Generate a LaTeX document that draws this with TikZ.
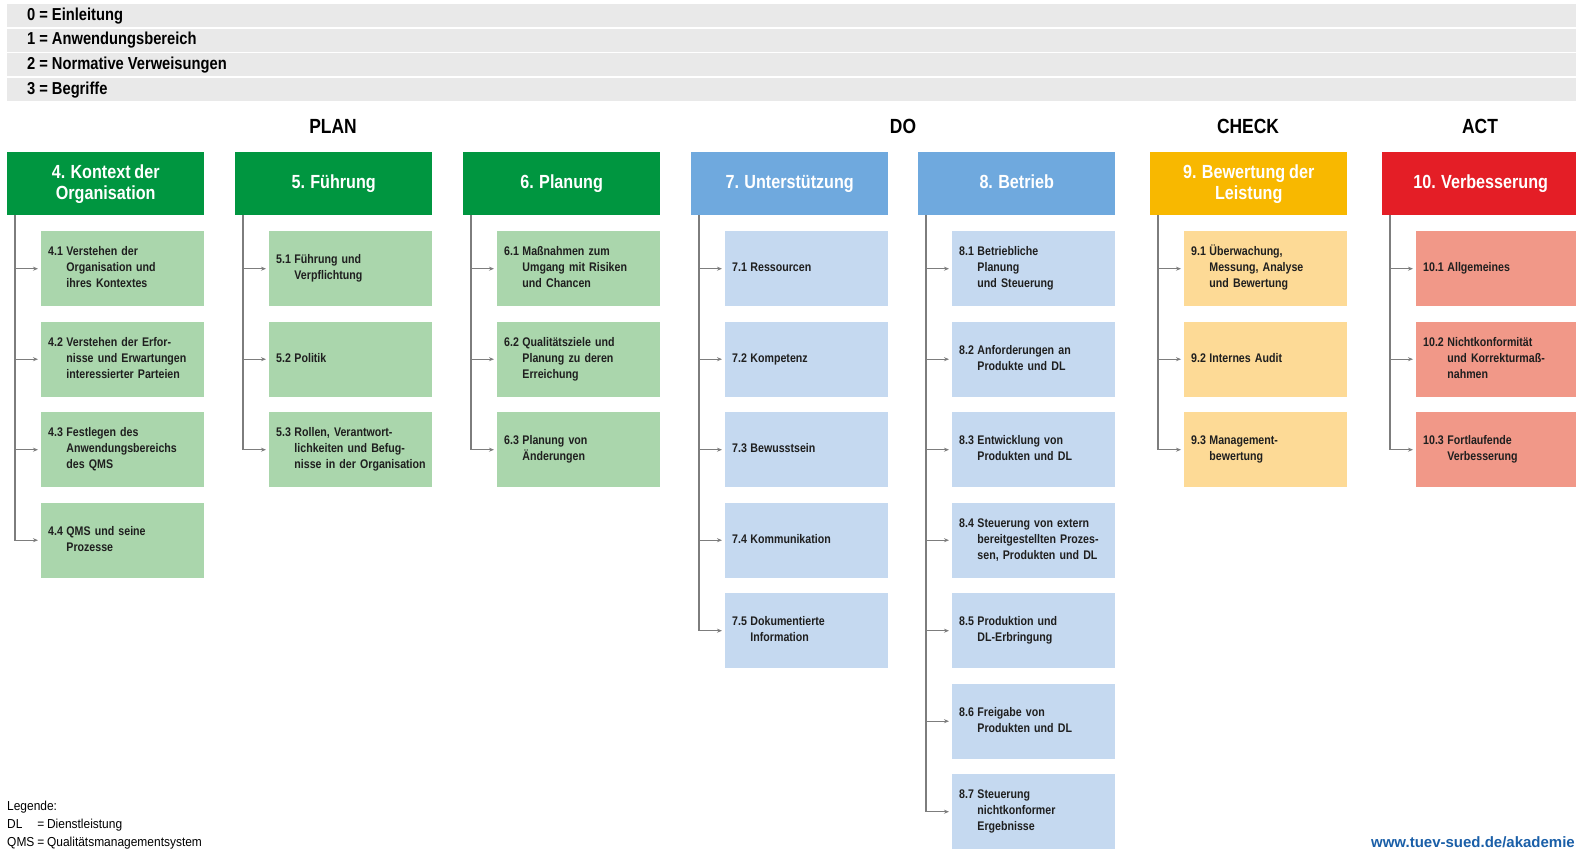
\documentclass[tikz,border=0pt]{standalone}
\usepackage{fontspec}
\setmainfont{Liberation Sans}
\newfontfamily\cf{Liberation Sans}[FakeStretch=0.85]
\newfontfamily\subfnt{Liberation Sans}[FakeStretch=0.85,WordSpace=0.85]
\newfontfamily\lf{Liberation Sans}[FakeStretch=0.92,WordSpace=0.8]
\usetikzlibrary{arrows.meta}
\definecolor{hgreen}{RGB}{0,150,64}
\definecolor{sgreen}{RGB}{170,214,172}
\definecolor{hblue}{RGB}{111,169,222}
\definecolor{sblue}{RGB}{197,217,240}
\definecolor{horange}{RGB}{248,184,0}
\definecolor{sorange}{RGB}{253,218,150}
\definecolor{hred}{RGB}{228,30,38}
\definecolor{sred}{RGB}{241,152,136}
\definecolor{barg}{RGB}{233,233,233}
\definecolor{lineg}{RGB}{125,125,125}
\definecolor{urlblue}{RGB}{26,95,168}
\newcommand\sbt[2]{\begin{tabular}{@{}l@{\hspace{3.5pt}}l@{}}#1&\begin{tabular}[t]{@{}l@{}}#2\end{tabular}\end{tabular}}
\newcommand\eqsgn{\hspace{4pt}=\hspace{4pt}}
\begin{document}
\begin{tikzpicture}[x=1pt,y=-1pt,
  topbar/.style={anchor=north west, fill=barg, minimum width=1569pt, minimum height=23pt,
    text width=1529pt, inner xsep=20pt, inner ysep=0pt, align=left, text height=12.5pt, text depth=3.5pt,
    font=\cf\bfseries\fontsize{17.3}{18}\selectfont},
  hdr/.style={anchor=north west, minimum width=197pt, minimum height=63pt, inner sep=0pt,
    text=white, align=center, font=\cf\bfseries\fontsize{19}{21}\selectfont},
  subbox/.style={anchor=north west, minimum width=163pt, minimum height=75pt, inner xsep=7pt,
    inner ysep=0pt, text width=149pt, align=left, text=black!88,
    font=\subfnt\bfseries\fontsize{12.5}{16}\selectfont},
  coltitle/.style={font=\cf\bfseries\fontsize{20.5}{22}\selectfont, inner sep=0pt},
  trunkline/.style={draw=lineg, line width=1.8pt},
  branchline/.style={draw=lineg, line width=1pt, -{Stealth[length=5pt,width=4pt]}, shorten >=3pt},
]
\clip (0,0) rectangle (1576,852);
\fill[white] (0,0) rectangle (1576,852);

% top rows
\node[topbar] (r0) at (7,4) {0\eqsgn Einleitung};
\node[topbar] (r1) at (7,28.6) {1\eqsgn Anwendungsbereich};
\node[topbar] (r2) at (7,53.2) {2\eqsgn Normative\hspace{4pt}Verweisungen};
\node[topbar] (r3) at (7,77.8) {3\eqsgn Begriffe};

% column titles
\node[coltitle] (plan) at (333,126) {PLAN};
\node[coltitle] (do) at (903,126) {DO};
\node[coltitle] (check) at (1248,126) {CHECK};
\node[coltitle] (act) at (1480,126) {ACT};

% headers
\node[hdr, fill=hgreen] (h4) at (7,152) {4. Kontext der\\Organisation};
\node[hdr, fill=hgreen] (h5) at (235,152) {5. Führung};
\node[hdr, fill=hgreen] (h6) at (463,152) {6. Planung};
\node[hdr, fill=hblue] (h7) at (691,152) {7. Unterstützung};
\node[hdr, fill=hblue] (h8) at (918,152) {8. Betrieb\vphantom{g}};
\node[hdr, fill=horange] (h9) at (1150,152) {9. Bewertung der\\Leistung};
\node[hdr, fill=hred] (h10) at (1382,152) {10. Verbesserung};

% column 4
\node[subbox, fill=sgreen] (s41) at (41,231) {\sbt{4.1}{Verstehen der\\Organisation und\\ihres Kontextes}};
\node[subbox, fill=sgreen] (s42) at (41,321.5) {\sbt{4.2}{Verstehen der Erfor-\\nisse und Erwartungen\\interessierter Parteien}};
\node[subbox, fill=sgreen] (s43) at (41,412) {\sbt{4.3}{Festlegen des\\Anwendungsbereichs\\des QMS}};
\node[subbox, fill=sgreen] (s44) at (41,502.5) {\sbt{4.4}{QMS und seine\\Prozesse}};
% column 5
\node[subbox, fill=sgreen] (s51) at (269,231) {\sbt{5.1}{Führung und\\Verpflichtung}};
\node[subbox, fill=sgreen] (s52) at (269,321.5) {\sbt{5.2}{Politik}};
\node[subbox, fill=sgreen] (s53) at (269,412) {\sbt{5.3}{Rollen, Verantwort-\\lichkeiten und Befug-\\nisse in der Organisation}};
% column 6
\node[subbox, fill=sgreen] (s61) at (497,231) {\sbt{6.1}{Maßnahmen zum\\Umgang mit Risiken\\und Chancen}};
\node[subbox, fill=sgreen] (s62) at (497,321.5) {\sbt{6.2}{Qualitätsziele und\\Planung zu deren\\Erreichung}};
\node[subbox, fill=sgreen] (s63) at (497,412) {\sbt{6.3}{Planung von\\Änderungen}};
% column 7
\node[subbox, fill=sblue] (s71) at (725,231) {\sbt{7.1}{Ressourcen}};
\node[subbox, fill=sblue] (s72) at (725,321.5) {\sbt{7.2}{Kompetenz}};
\node[subbox, fill=sblue] (s73) at (725,412) {\sbt{7.3}{Bewusstsein}};
\node[subbox, fill=sblue] (s74) at (725,502.5) {\sbt{7.4}{Kommunikation}};
\node[subbox, fill=sblue] (s75) at (725,593) {\sbt{7.5}{Dokumentierte\\Information}};
% column 8
\node[subbox, fill=sblue] (s81) at (952,231) {\sbt{8.1}{Betriebliche\\Planung\\und Steuerung}};
\node[subbox, fill=sblue] (s82) at (952,321.5) {\sbt{8.2}{Anforderungen an\\Produkte und DL}};
\node[subbox, fill=sblue] (s83) at (952,412) {\sbt{8.3}{Entwicklung von\\Produkten und DL}};
\node[subbox, fill=sblue] (s84) at (952,502.5) {\sbt{8.4}{Steuerung von extern\\bereitgestellten Prozes-\\sen, Produkten und DL}};
\node[subbox, fill=sblue] (s85) at (952,593) {\sbt{8.5}{Produktion und\\DL-Erbringung}};
\node[subbox, fill=sblue] (s86) at (952,683.5) {\sbt{8.6}{Freigabe von\\Produkten und DL}};
\node[subbox, fill=sblue] (s87) at (952,774) {\sbt{8.7}{Steuerung\\nichtkonformer\\Ergebnisse}};
% column 9
\node[subbox, fill=sorange] (s91) at (1184,231) {\sbt{9.1}{Überwachung,\\Messung, Analyse\\und Bewertung}};
\node[subbox, fill=sorange] (s92) at (1184,321.5) {\sbt{9.2}{Internes Audit}};
\node[subbox, fill=sorange] (s93) at (1184,412) {\sbt{9.3}{Management-\\bewertung}};
% column 10
\node[subbox, fill=sred] (s101) at (1416,231) {\sbt{10.1}{Allgemeines}};
\node[subbox, fill=sred] (s102) at (1416,321.5) {\sbt{10.2}{Nichtkonformität\\und Korrekturmaß-\\nahmen}};
\node[subbox, fill=sred] (s103) at (1416,412) {\sbt{10.3}{Fortlaufende\\Verbesserung}};

% trunks
\coordinate (t4) at ([xshift=8pt]h4.south west);
\coordinate (t5) at ([xshift=8pt]h5.south west);
\coordinate (t6) at ([xshift=8pt]h6.south west);
\coordinate (t7) at ([xshift=8pt]h7.south west);
\coordinate (t8) at ([xshift=8pt]h8.south west);
\coordinate (t9) at ([xshift=8pt]h9.south west);
\coordinate (t10) at ([xshift=8pt]h10.south west);
\draw[trunkline] (t4) -- ([yshift=-0.5pt]t4 |- s44.west);
\draw[trunkline] (t5) -- ([yshift=-0.5pt]t5 |- s53.west);
\draw[trunkline] (t6) -- ([yshift=-0.5pt]t6 |- s63.west);
\draw[trunkline] (t7) -- ([yshift=-0.5pt]t7 |- s75.west);
\draw[trunkline] (t8) -- ([yshift=-0.5pt]t8 |- s87.west);
\draw[trunkline] (t9) -- ([yshift=-0.5pt]t9 |- s93.west);
\draw[trunkline] (t10) -- ([yshift=-0.5pt]t10 |- s103.west);
% branches
\foreach \t/\s in {t4/s41,t4/s42,t4/s43,t4/s44,t5/s51,t5/s52,t5/s53,t6/s61,t6/s62,t6/s63,
  t7/s71,t7/s72,t7/s73,t7/s74,t7/s75,t8/s81,t8/s82,t8/s83,t8/s84,t8/s85,t8/s86,t8/s87,
  t9/s91,t9/s92,t9/s93,t10/s101,t10/s102,t10/s103}
  \draw[branchline] (\t |- \s.west) -- (\s.west);

% legend
\node[anchor=north west, inner sep=0pt, font=\lf\fontsize{13}{18}\selectfont] (leg) at (7,797.5)
  {\begin{tabular}{@{}l@{\hspace{3pt}}l@{}}\multicolumn{2}{@{}l@{}}{Legende:}\\DL&= Dienstleistung\\QMS&= Qualitätsmanagementsystem\end{tabular}};
% url
\node[anchor=east, inner sep=0pt, text=urlblue, font=\bfseries\fontsize{15}{16}\selectfont] (url) at (1575,842) {www.tuev-sued.de/akademie};
\end{tikzpicture}
\end{document}
